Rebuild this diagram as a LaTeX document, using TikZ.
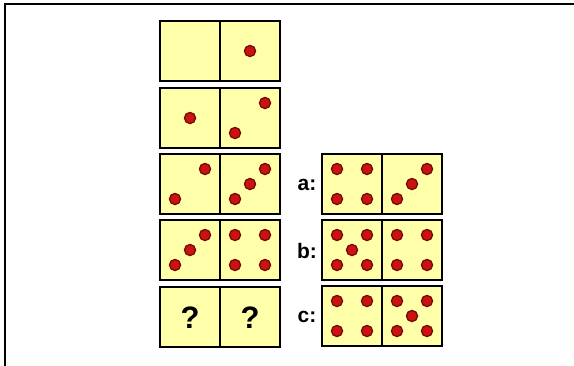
\documentclass[tikz,border=0pt]{standalone}
\usepackage{fontspec}
\setmainfont{Liberation Sans}
\definecolor{cellyellow}{HTML}{FFFFAA}
\definecolor{dotred}{HTML}{CC1111}
\definecolor{dotrim}{HTML}{6A0A00}
\begin{document}
\begin{tikzpicture}[x=1pt, y=-1pt,
    cell/.style={draw=black, fill=cellyellow, line width=1.4pt},
    dot/.style={fill=dotred, draw=dotrim, line width=1.2pt},
    qmark/.style={font=\bfseries\fontsize{31}{31}\selectfont},
    choice/.style={font=\bfseries\fontsize{21}{21}\selectfont}]
    \useasboundingbox (0,0) rectangle (574,365);
    \fill[white] (0,0) rectangle (574,365);
    % Cadre
    \draw[line width=2pt] (5,366) -- (5,4) -- (575,4);
    % Dominos de la suite
    \foreach \y in {21,88,154,220,287}{
        \draw[cell] (160,\y) rectangle +(60,60);
        \draw[cell] (220,\y) rectangle +(60,60);
    }
    % Dominos des choix
    \foreach \y in {154,220,286}{
        \draw[cell] (322,\y) rectangle +(60,60);
        \draw[cell] (382,\y) rectangle +(60,60);
    }
    % Points de la suite
    \foreach \x/\y in {250/51,
        190/118, 265/103, 235/133,
        205/169, 175/199, 265/169, 250/184, 235/199,
        205/235, 190/250, 175/265, 235/235, 265/235, 235/265, 265/265}{
        \draw[dot] (\x,\y) circle (5.6);
    }
    % Points des choix
    \foreach \x/\y in {337/169, 367/169, 337/199, 367/199, 427/169, 412/184, 397/199,
        337/235, 367/235, 352/250, 337/265, 367/265, 397/235, 427/235, 397/265, 427/265,
        337/301, 367/301, 337/331, 367/331, 397/301, 427/301, 412/316, 397/331, 427/331}{
        \draw[dot] (\x,\y) circle (5.6);
    }
    \node[qmark] (q1) at (190,318) {?};
    \node[qmark] (q2) at (250,318) {?};
    \node[choice] (la) at (307,185) {a:};
    \node[choice] (lb) at (307,251) {b:};
    \node[choice] (lc) at (307,317) {c:};
\end{tikzpicture}
\end{document}
